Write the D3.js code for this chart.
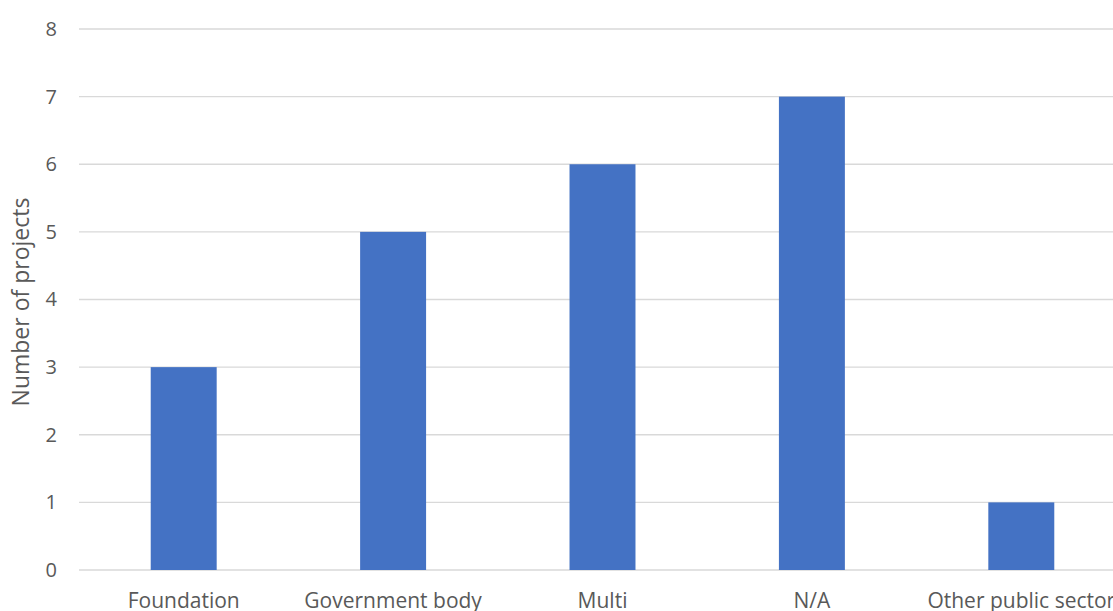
<!DOCTYPE html>
<html>
<head>
<meta charset="utf-8">
<script src="https://cdn.jsdelivr.net/npm/d3@7"></script>
<style>
  html, body { margin: 0; padding: 0; background: #fff; }
  svg { display: block; }
  text { font-family: "Open Sans", "Liberation Sans", sans-serif; fill: #595959; }
</style>
</head>
<body>
<svg id="chart" width="1113" height="611"></svg>
<script>
// Funding source categories and project counts
const categories = ["Foundation", "Government body", "Multi", "N/A", "Other public sector"];
const projectCounts = [3, 5, 6, 7, 1];
const yTicks = [0, 1, 2, 3, 4, 5, 6, 7, 8];

const svg = d3.select("#chart");

const x = d3.scaleBand()
  .domain(categories)
  .range([79, 1126])
  .paddingInner(0.685)
  .paddingOuter(0.3425);

const y = d3.scaleLinear()
  .domain([0, 8])
  .range([570, 29]);

// Horizontal gridlines
svg.append("g")
  .selectAll("line")
  .data(yTicks)
  .join("line")
  .attr("x1", 79)
  .attr("x2", 1126)
  .attr("y1", d => y(d))
  .attr("y2", d => y(d))
  .attr("stroke", "#d9d9d9")
  .attr("stroke-width", 1.3);

// Y axis labels
const yAxis = d3.axisLeft(y).tickValues(yTicks).tickSize(0).tickPadding(0).tickFormat(d3.format("d"));
const yG = svg.append("g").attr("transform", "translate(57,0)").call(yAxis);
yG.select(".domain").remove();
yG.selectAll("text")
  .attr("font-size", 20)
  .style("font-family", '"Open Sans", sans-serif')
  .attr("fill", "#595959");

// Bars
svg.append("g")
  .selectAll("rect")
  .data(categories.map((c, i) => ({ c, v: projectCounts[i] })))
  .join("rect")
  .attr("x", d => x(d.c))
  .attr("width", x.bandwidth())
  .attr("y", d => y(d.v))
  .attr("height", d => y(0) - y(d.v))
  .attr("fill", "#4472c4");

// X axis labels
const xAxis = d3.axisBottom(x).tickSize(0).tickPadding(0);
const xG = svg.append("g").attr("transform", "translate(0,608)").call(xAxis);
xG.select(".domain").remove();
xG.selectAll("text")
  .attr("font-size", 21)
  .attr("y", 0)
  .attr("dy", 0)
  .style("font-family", '"Open Sans", sans-serif')
  .attr("fill", "#595959");

// Y axis title
svg.append("text")
  .attr("transform", "translate(29,302) rotate(-90)")
  .attr("text-anchor", "middle")
  .attr("font-size", 23)
  .text("Number of projects");
</script>
</body>
</html>
